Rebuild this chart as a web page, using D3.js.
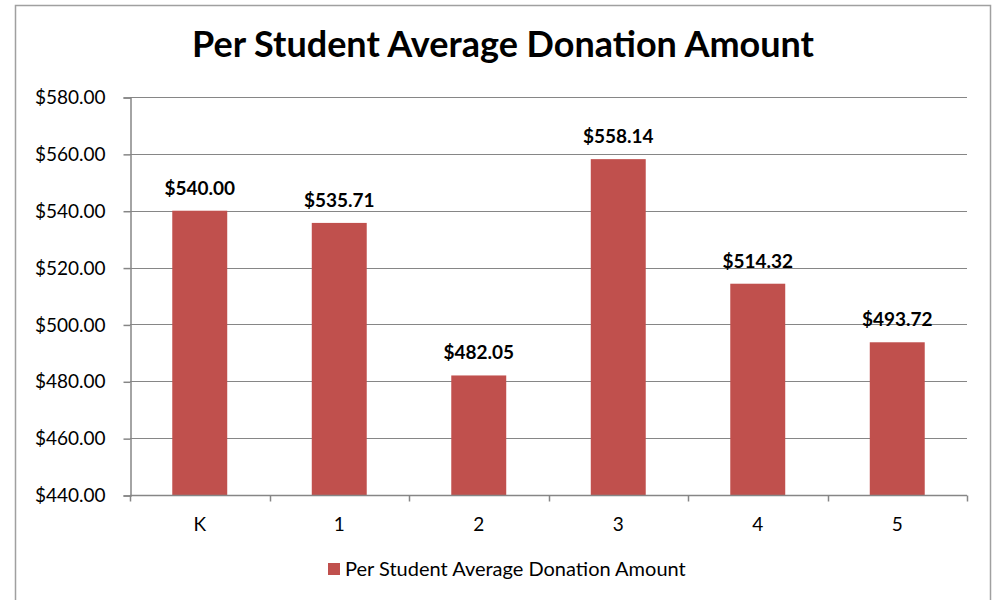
<!DOCTYPE html>
<html>
<head>
<meta charset="utf-8">
<script src="https://cdn.jsdelivr.net/npm/d3@7"></script>
<style>
  body { margin: 0; background: #fff; }
  svg text { font-family: Lato, "Open Sans", sans-serif; fill: #000; }
</style>
</head>
<body>
<div id="chart"></div>
<script>
"use strict";

// data
var grades = ["K", "1", "2", "3", "4", "5"];
var donations = [540.00, 535.71, 482.05, 558.14, 514.32, 493.72];
var yTicks = [440, 460, 480, 500, 520, 540, 560, 580];
var seriesName = "Per Student Average Donation Amount";
var barColor = "#c0504d";

var width = 999, height = 600;
var plot = { left: 130, top: 97, right: 967, bottom: 495 };

var svg = d3.select("#chart")
  .append("svg")
  .attr("width", width)
  .attr("height", height);

// outer chart border
svg.append("rect")
  .attr("x", 15.5)
  .attr("y", 5.5)
  .attr("width", 975)
  .attr("height", 620)
  .attr("fill", "none")
  .attr("stroke", "#a0a0a0")
  .attr("stroke-width", 1.5);

// title
svg.append("text")
  .attr("x", 503)
  .attr("y", 57)
  .attr("text-anchor", "middle")
  .style("font-size", "36px")
  .style("font-weight", "bold")
  .text(seriesName);

var x = d3.scaleBand()
  .domain(grades)
  .range([plot.left, plot.right])
  .paddingInner(0.606)
  .paddingOuter(0.303);

var y = d3.scaleLinear()
  .domain([440, 580])
  .range([plot.bottom, plot.top]);

// gridlines
svg.append("g")
  .selectAll("line")
  .data(yTicks.slice(1))
  .enter()
  .append("line")
  .attr("x1", plot.left)
  .attr("x2", plot.right)
  .attr("y1", d => Math.round(y(d)) + 0.5)
  .attr("y2", d => Math.round(y(d)) + 0.5)
  .attr("stroke", "#868686")
  .attr("stroke-width", 1);

// bars
svg.append("g")
  .selectAll("rect")
  .data(donations)
  .enter()
  .append("rect")
  .attr("x", (d, i) => x(grades[i]))
  .attr("width", x.bandwidth())
  .attr("y", d => y(d))
  .attr("height", d => plot.bottom - y(d))
  .attr("fill", barColor);

// value labels
svg.append("g")
  .selectAll("text")
  .data(donations)
  .enter()
  .append("text")
  .attr("x", (d, i) => x(grades[i]) + x.bandwidth() / 2)
  .attr("y", d => y(d) - 16)
  .attr("text-anchor", "middle")
  .style("font-size", "19px")
  .style("font-weight", "bold")
  .text(d => "$" + d.toFixed(2));

// y axis
var yAxis = d3.axisLeft(y)
  .tickValues(yTicks)
  .tickSize(7)
  .tickPadding(18)
  .tickFormat(d => "$" + d3.format(".2f")(d));

var gy = svg.append("g")
  .attr("transform", "translate(" + (plot.left + 0.5) + ",0.5)")
  .call(yAxis);
gy.select(".domain").attr("stroke", "#868686").attr("stroke-width", 1.5);
gy.selectAll(".tick line").attr("stroke", "#868686").attr("stroke-width", 1.5);
gy.selectAll(".tick text").style("font-size", "19px").style("fill", "#000");

// x axis, ticks at band boundaries
var gx = svg.append("g")
  .attr("transform", "translate(0," + (plot.bottom + 0.5) + ")");
gx.append("line")
  .attr("x1", plot.left)
  .attr("x2", plot.right)
  .attr("stroke", "#868686")
  .attr("stroke-width", 1.5);
var step = x.step();
gx.selectAll(".xtick")
  .data(d3.range(grades.length + 1))
  .enter()
  .append("line")
  .attr("class", "xtick")
  .attr("x1", i => Math.round(plot.left + i * step) + 0.5)
  .attr("x2", i => Math.round(plot.left + i * step) + 0.5)
  .attr("y1", 0)
  .attr("y2", 6)
  .attr("stroke", "#868686")
  .attr("stroke-width", 1.5);
gx.selectAll(".xlabel")
  .data(grades)
  .enter()
  .append("text")
  .attr("class", "xlabel")
  .attr("x", d => x(d) + x.bandwidth() / 2)
  .attr("y", 35)
  .attr("text-anchor", "middle")
  .style("font-size", "19px")
  .text(d => d);

// legend
var legend = svg.append("g").attr("transform", "translate(328,563)");
legend.append("rect")
  .attr("width", 12)
  .attr("height", 12)
  .attr("fill", barColor);
legend.append("text")
  .attr("x", 17)
  .attr("y", 13)
  .style("font-size", "20px")
  .text(seriesName);
</script>
</body>
</html>
